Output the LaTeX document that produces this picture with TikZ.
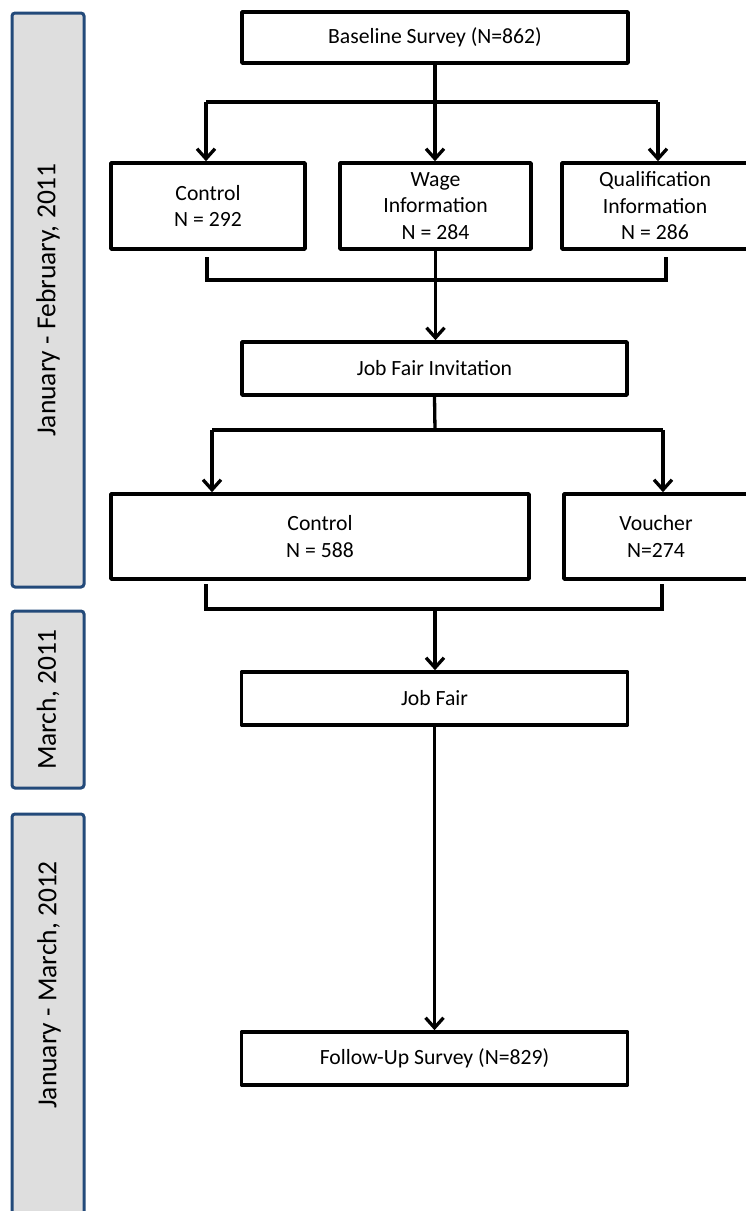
\documentclass[tikz,border=0pt]{standalone}
\usepackage{fontspec}
\setmainfont{Carlito}
\usetikzlibrary{arrows.meta}
\definecolor{sidefill}{RGB}{222,222,222}
\definecolor{sideline}{RGB}{35,74,122}
\begin{document}
\begin{tikzpicture}[x=1pt,y=-1pt,
  box/.style={draw=black, line width=3.6pt, line join=round, align=center, inner sep=0pt,
    font=\fontsize{21.7}{26.5}\selectfont},
  side/.style={draw=sideline, fill=sidefill, line width=3pt, rounded corners=3pt, inner sep=0pt},
  sidetext/.style={font=\fontsize{27.5}{33}\selectfont, rotate=90, inner sep=0pt},
  conn/.style={draw=black, line width=3.3pt, line join=miter},
  arr/.style={conn, -{Straight Barb[length=10pt,width=18pt]}}]
\useasboundingbox (0,0) rectangle (746,1211);
\clip (0,0) rectangle (746,1211);
% side bars
\node[side, minimum width=72pt, minimum height=574pt] (sb1) at (48,300) {};
\node[sidetext] (sb1t) at (sb1.center) {January - February, 2011};
\node[side, minimum width=72pt, minimum height=177pt] (sb2) at (48,699.5) {};
\node[sidetext] (sb2t) at (sb2.center) {March, 2011};
\node[side, minimum width=72pt, minimum height=440pt] (sb3) at (48,1034) {};
\node[sidetext] (sb3t) at (49,985) {January - March, 2012};
% boxes
\node[box, minimum width=386pt, minimum height=51pt] (base) at (435,37.5) {Baseline Survey (N=862)};
\node[box, minimum width=194pt, minimum height=86pt] (ctrlA) at (208,206) {Control\\N = 292};
\node[box, minimum width=191pt, minimum height=86pt] (wage) at (435.5,206) {Wage\\Information\\N = 284};
\node[box, minimum width=186pt, minimum height=86pt] (qual) at (655,206) {Qualification\\Information\\N = 286};
\node[box, minimum width=385pt, minimum height=53pt] (jfi) at (434.5,368.5) {Job Fair Invitation};
\node[box, minimum width=418pt, minimum height=85pt] (ctrlB) at (320,536.5) {Control\\N = 588};
\node[box, minimum width=184pt, minimum height=85pt] (vouch) at (656,536.5) {Voucher\\N=274};
\node[box, minimum width=386pt, minimum height=53pt] (jf) at (434.5,698.5) {Job Fair};
\node[box, minimum width=386pt, minimum height=53pt] (fu) at (434.5,1058.5) {Follow-Up Survey (N=829)};
% junction points
\coordinate (s1L) at (206,102);
\coordinate (s1R) at (658,102);
\coordinate (m1La) at (207,257);
\coordinate (m1Lb) at (207,280);
\coordinate (m1Ra) at (666,257);
\coordinate (m1Rb) at (666,280);
\coordinate (s2C) at (435,430);
\coordinate (s2L) at (212,430);
\coordinate (s2R) at (663,430);
\coordinate (m2La) at (206,584);
\coordinate (m2Lb) at (206,609);
\coordinate (m2Ra) at (662,584);
\coordinate (m2Rb) at (662,609);
\coordinate (m2C) at (435,609);
% split 1
\draw[arr] (base.south) -- (base.south |- wage.north);
\draw[conn] (s1L) -- (s1R);
\draw[arr] (s1L) -- (s1L |- ctrlA.north);
\draw[arr] (s1R) -- (s1R |- qual.north);
% merge 1
\draw[conn] (m1La) -- (m1Lb) -- (m1Rb) -- (m1Ra);
\draw[arr] (wage.south) -- (wage.south |- jfi.north);
% split 2
\draw[conn] (jfi.south) -- (s2C);
\draw[conn] (s2L) -- (s2R);
\draw[arr] (s2L) -- (s2L |- ctrlB.north);
\draw[arr] (s2R) -- (s2R |- vouch.north);
% merge 2
\draw[conn] (m2La) -- (m2Lb) -- (m2Rb) -- (m2Ra);
\draw[arr] (m2C) -- (m2C |- jf.north);
% final
\draw[arr] (jf.south) -- (fu.north);
\end{tikzpicture}
\end{document}
